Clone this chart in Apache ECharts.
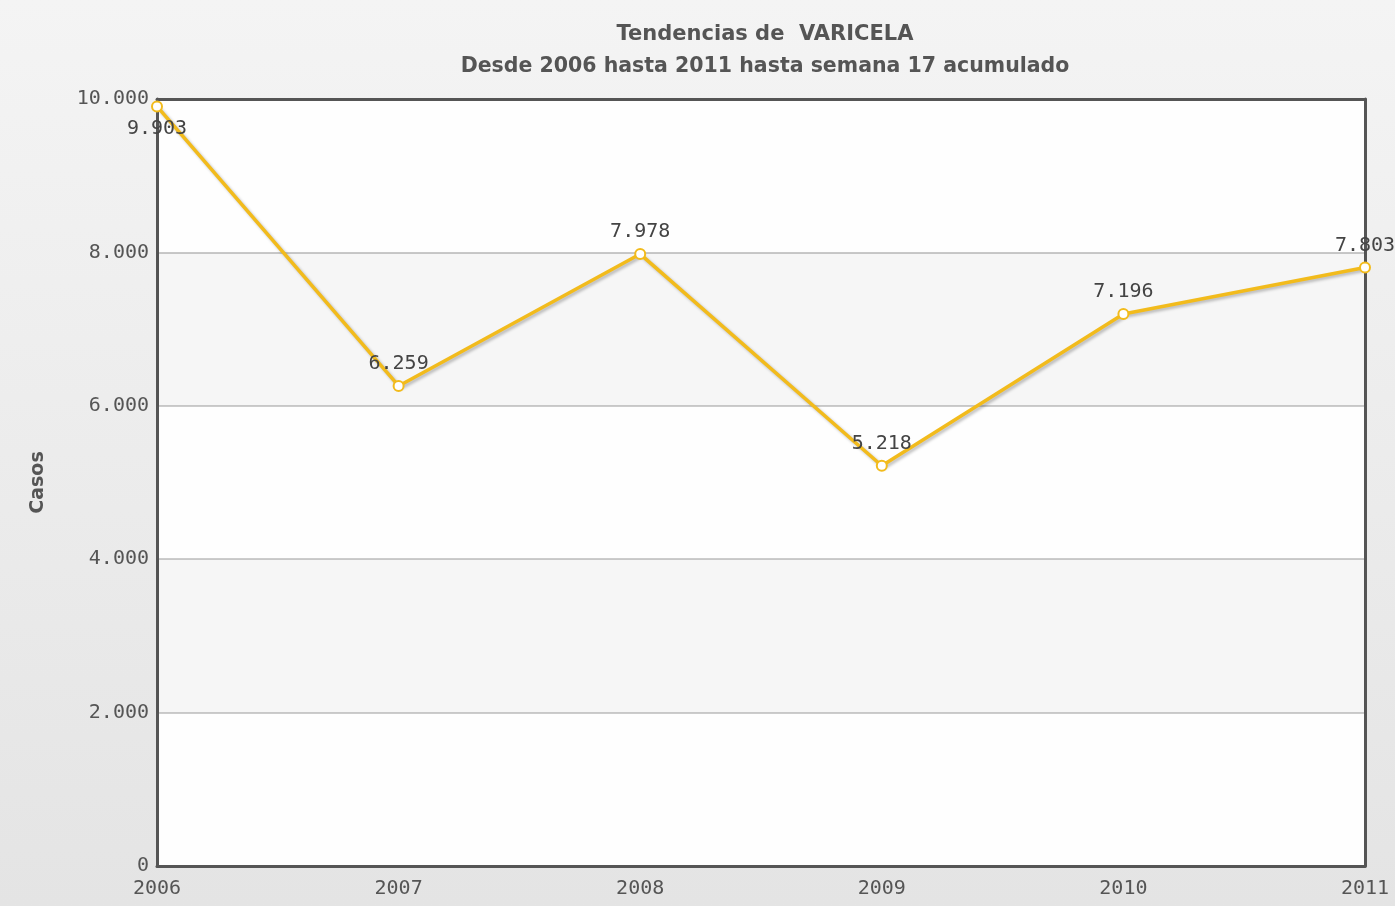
<!DOCTYPE html>
<html>
<head>
<meta charset="utf-8">
<script src="https://cdn.jsdelivr.net/npm/echarts@6/dist/echarts.min.js"></script>
<style>
html,body{margin:0;padding:0;}
#c{width:1395px;height:906px;}
</style>
</head>
<body>
<div id="c"></div>
<script>
const titleText = 'Tendencias de  VARICELA';
const subtitleText = 'Desde 2006 hasta 2011 hasta semana 17 acumulado';
const yAxisName = 'Casos';
const years = ['2006', '2007', '2008', '2009', '2010', '2011'];
const casos = [9903, 6259, 7978, 5218, 7196, 7803];
const labelPositions = ['bottom', 'top', 'top', 'top', 'top', 'top'];
const yMin = 0, yMax = 10000, yStep = 2000;
const shadedBands = [[2000, 4000], [6000, 8000]];

function fmt(v) {
  return String(v).replace(/\B(?=(\d{3})+(?!\d))/g, '.');
}

const chart = echarts.init(document.getElementById('c'));
const mono = 'DejaVu Sans Mono';
const frame = {show: true, onZero: false, lineStyle: {color: '#555', width: 3}};
chart.setOption({
  animation: false,
  backgroundColor: {
    type: 'linear', x: 0, y: 0, x2: 0, y2: 1,
    colorStops: [{offset: 0, color: '#f4f4f4'}, {offset: 1, color: '#e4e4e4'}]
  },
  title: [
    {text: titleText, left: 760, top: 19, textAlign: 'center',
     textStyle: {fontFamily: 'DejaVu Sans', fontWeight: 'bold', fontSize: 21, color: '#555'}},
    {text: subtitleText, left: 760, top: 51, textAlign: 'center',
     textStyle: {fontFamily: 'DejaVu Sans', fontWeight: 'bold', fontSize: 20.5, color: '#555'}}
  ],
  grid: {left: 157, right: 30, top: 99, bottom: 40, show: true,
         borderWidth: 0, backgroundColor: '#fefefe'},
  xAxis: [{
    type: 'category', data: years, boundaryGap: false,
    axisLine: frame,
    axisTick: {show: false},
    axisLabel: {fontFamily: mono, fontSize: 20, color: '#555', margin: 13},
    splitLine: {show: false}
  }, {
    type: 'category', data: years, boundaryGap: false, position: 'top',
    axisLine: frame, axisTick: {show: false}, axisLabel: {show: false}, splitLine: {show: false}
  }],
  yAxis: [{
    type: 'value', min: yMin, max: yMax, interval: yStep,
    name: yAxisName, nameLocation: 'middle', nameGap: 109, nameRotate: 90,
    nameTextStyle: {fontFamily: 'DejaVu Sans', fontWeight: 'bold', fontSize: 19, color: '#555'},
    axisLine: frame,
    axisTick: {show: false},
    axisLabel: {fontFamily: mono, fontSize: 20, color: '#555', margin: 8, formatter: fmt},
    splitLine: {show: true, showMinLine: false, showMaxLine: false, lineStyle: {color: '#cccccc', width: 2}},
    splitArea: {show: false}
  }, {
    type: 'value', min: yMin, max: yMax, interval: yStep, position: 'right',
    axisLine: frame, axisTick: {show: false}, axisLabel: {show: false}, splitLine: {show: false}
  }],
  series: [{
    type: 'line',
    data: casos.map((v, i) => ({value: v, label: {position: labelPositions[i]}})),
    lineStyle: {color: '#f2bb1c', width: 3.5, shadowColor: 'rgba(0,0,0,0.25)', shadowBlur: 3, shadowOffsetX: 2, shadowOffsetY: 2},
    itemStyle: {color: '#ffffff', borderColor: '#f2bb1c', borderWidth: 2},
    symbol: 'circle', symbolSize: 10,
    label: {show: true, fontFamily: mono, fontSize: 20, color: '#444', distance: 6,
            formatter: p => fmt(p.value)},
    clip: false,
    markArea: {
      silent: true,
      itemStyle: {color: 'rgba(0,0,0,0.03)'},
      data: shadedBands.map(b => [{yAxis: b[0]}, {yAxis: b[1]}])
    }
  }]
});
</script>
</body>
</html>
